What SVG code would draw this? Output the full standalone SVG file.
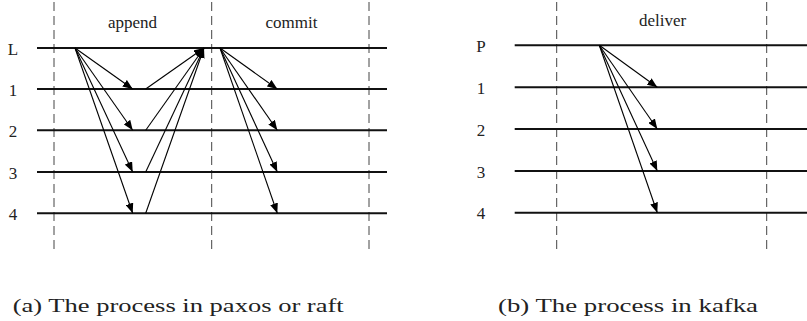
<svg xmlns="http://www.w3.org/2000/svg" width="807" height="321" viewBox="0 0 807 321">
<style>
.row{stroke:#111;stroke-width:2;fill:none}
.dash{stroke:#444;stroke-width:1;stroke-dasharray:9 5;fill:none}
.arr{stroke:#000;stroke-width:1.1;fill:none;marker-end:url(#ah)}
text{font-family:'Liberation Serif','DejaVu Serif','Times New Roman',serif;fill:#222}
.lbl{font-size:17px}
.cap{font-size:19.5px}
</style>
<defs>
<marker id="ah" viewBox="0 0 10 8" refX="10" refY="4" markerWidth="10" markerHeight="8" markerUnits="userSpaceOnUse" orient="auto">
<path d="M0,0 L10,4 L0,8 Z" fill="#000"/>
</marker>
</defs>
<g id="panel-a">
<g id="a-grid">
<line class="dash" x1="54" y1="2" x2="54" y2="252"/>
<line class="dash" x1="211.7" y1="2" x2="211.7" y2="252"/>
<line class="dash" x1="369" y1="2" x2="369" y2="252"/>
<line class="row" x1="37" y1="48" x2="387" y2="48"/>
<line class="row" x1="37" y1="89" x2="387" y2="89"/>
<line class="row" x1="37" y1="130.3" x2="387" y2="130.3"/>
<line class="row" x1="37" y1="172" x2="387" y2="172"/>
<line class="row" x1="37" y1="213.3" x2="387" y2="213.3"/>
</g>
<g id="a-labels">
<text class="lbl" x="13" y="55" text-anchor="middle" font-family="Liberation Serif, DejaVu Serif, serif">L</text>
<text class="lbl" x="13" y="95.5" text-anchor="middle" font-family="Liberation Serif, DejaVu Serif, serif">1</text>
<text class="lbl" x="13" y="137" text-anchor="middle" font-family="Liberation Serif, DejaVu Serif, serif">2</text>
<text class="lbl" x="13" y="178.5" text-anchor="middle" font-family="Liberation Serif, DejaVu Serif, serif">3</text>
<text class="lbl" x="13" y="220" text-anchor="middle" font-family="Liberation Serif, DejaVu Serif, serif">4</text>
<text class="lbl" x="132.5" y="28" text-anchor="middle" font-family="Liberation Serif, DejaVu Serif, serif">append</text>
<text class="lbl" x="291.5" y="28" text-anchor="middle" font-family="Liberation Serif, DejaVu Serif, serif">commit</text>
</g>
<g id="a-connectors">
<line class="arr" x1="75" y1="48" x2="132.7" y2="89"/>
<line class="arr" x1="75" y1="48" x2="132.7" y2="130.3"/>
<line class="arr" x1="75" y1="48" x2="132.7" y2="172"/>
<line class="arr" x1="75" y1="48" x2="132.7" y2="213.3"/>
<line class="arr" x1="145.7" y1="89" x2="204" y2="48"/>
<line class="arr" x1="145.7" y1="130.3" x2="204" y2="48"/>
<line class="arr" x1="145.7" y1="172" x2="204" y2="48"/>
<line class="arr" x1="145.7" y1="213.3" x2="204" y2="48"/>
<line class="arr" x1="220" y1="48" x2="277.3" y2="89"/>
<line class="arr" x1="220" y1="48" x2="277.3" y2="130.3"/>
<line class="arr" x1="220" y1="48" x2="277.3" y2="172"/>
<line class="arr" x1="220" y1="48" x2="277.3" y2="213.3"/>
</g>
<text id="cap-a" class="cap" x="12.7" y="311.5" textLength="331" lengthAdjust="spacingAndGlyphs" font-family="Liberation Serif, DejaVu Serif, serif">(a) The process in paxos or raft</text>
</g>
<g id="panel-b">
<g id="b-grid">
<line class="dash" x1="556.7" y1="2" x2="556.7" y2="252"/>
<line class="dash" x1="766.7" y1="2" x2="766.7" y2="252"/>
<line class="row" x1="514.7" y1="45.3" x2="807" y2="45.3"/>
<line class="row" x1="514.7" y1="87.3" x2="807" y2="87.3"/>
<line class="row" x1="514.7" y1="129" x2="807" y2="129"/>
<line class="row" x1="514.7" y1="171" x2="807" y2="171"/>
<line class="row" x1="514.7" y1="212.7" x2="807" y2="212.7"/>
</g>
<g id="b-labels">
<text class="lbl" x="481" y="52" text-anchor="middle" font-family="Liberation Serif, DejaVu Serif, serif">P</text>
<text class="lbl" x="481" y="94" text-anchor="middle" font-family="Liberation Serif, DejaVu Serif, serif">1</text>
<text class="lbl" x="481" y="135.7" text-anchor="middle" font-family="Liberation Serif, DejaVu Serif, serif">2</text>
<text class="lbl" x="481" y="177.7" text-anchor="middle" font-family="Liberation Serif, DejaVu Serif, serif">3</text>
<text class="lbl" x="481" y="219.4" text-anchor="middle" font-family="Liberation Serif, DejaVu Serif, serif">4</text>
<text class="lbl" x="662.5" y="26" text-anchor="middle" font-family="Liberation Serif, DejaVu Serif, serif">deliver</text>
</g>
<g id="b-connectors">
<line class="arr" x1="599.3" y1="45.3" x2="657.3" y2="87.3"/>
<line class="arr" x1="599.3" y1="45.3" x2="657.3" y2="129"/>
<line class="arr" x1="599.3" y1="45.3" x2="657.3" y2="171"/>
<line class="arr" x1="599.3" y1="45.3" x2="657.3" y2="212.7"/>
</g>
<text id="cap-b" class="cap" x="498" y="311.5" textLength="260" lengthAdjust="spacingAndGlyphs" font-family="Liberation Serif, DejaVu Serif, serif">(b) The process in kafka</text>
</g>
</svg>
